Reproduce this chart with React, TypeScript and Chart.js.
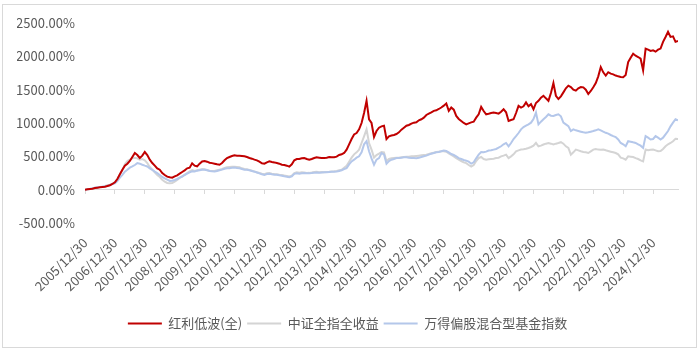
import React, { useEffect, useRef } from "react";
import { Chart, registerables } from "chart.js";

Chart.register(...registerables);

// Monthly month-end values, index 0 = 2005/12, index 238 = 2025/10 (cumulative return, %)
const startYear = 2005;
const seriesNames = ["红利低波(全)", "中证全指全收益", "万得偏股混合型基金指数"];

const redValues = [
  0, 5, 10, 15, 25, 30, 35, 40, 45, 55, 65, 85,
  110, 160, 230, 300, 360, 390, 430, 490, 550, 520, 475, 510,
  565, 520, 450, 400, 360, 320, 300, 250, 220, 195, 185, 180,
  200, 215, 240, 265, 290, 320, 330, 395, 360, 350, 390, 424,
  430, 420, 405, 398, 390, 380, 374, 400, 440, 474, 490, 505,
  515, 510, 510, 505, 500, 490, 475, 465, 450, 440, 420, 395,
  389, 410, 424, 415, 409, 400, 390, 374, 370, 360, 345, 380,
  440, 460, 460, 470, 475, 460, 450, 460, 475, 485, 480, 475,
  475, 480, 490, 485, 488, 495, 520, 530, 550, 600, 680, 760,
  829, 850, 904, 1000, 1150, 1333, 1056, 1000, 790, 880, 930, 950,
  960, 760, 800, 813, 820, 835, 860, 900, 930, 960, 970, 990,
  1005, 1010, 1040, 1056, 1080, 1120, 1141, 1160, 1182, 1190, 1210, 1232,
  1260, 1293, 1182, 1232, 1200, 1106, 1060, 1030, 1000, 980, 995, 1010,
  1020, 1080, 1131, 1242, 1180, 1131, 1140, 1150, 1156, 1150, 1141, 1170,
  1207, 1160, 1030, 1045, 1056, 1150, 1257, 1232, 1250, 1308, 1250, 1283,
  1207, 1300, 1333, 1380, 1409, 1370, 1333, 1450, 1600, 1409, 1360, 1400,
  1459, 1520, 1560, 1540, 1500, 1485, 1520, 1540, 1535, 1500, 1434, 1480,
  1535, 1600, 1700, 1838, 1760, 1712, 1762, 1740, 1730, 1712, 1700, 1690,
  1687, 1720, 1913, 1980, 2040, 2010, 1990, 1965, 1790, 2116, 2100, 2080,
  2091, 2070, 2100, 2116, 2217, 2290, 2368, 2292, 2300, 2217, 2230,
];

const grayValues = [
  0, 5, 10, 20, 30, 35, 40, 45, 55, 65, 75, 90,
  110, 160, 230, 290, 380, 430, 450, 470, 480, 470, 450, 460,
  440, 400, 340, 300, 260, 220, 190, 150, 120, 100, 95, 100,
  120, 145, 175, 200, 225, 250, 275, 295, 280, 290, 300, 310,
  305, 295, 285, 280, 280, 290, 300, 310, 325, 335, 340, 345,
  345, 340, 335, 320, 310, 305, 295, 285, 275, 262, 250, 238,
  232, 245, 248, 240, 235, 232, 225, 220, 212, 205, 198, 210,
  250, 262, 255, 260, 258, 250, 252, 258, 265, 268, 262, 265,
  262, 265, 268, 272, 275, 280, 290, 300, 330, 360, 420, 480,
  530, 560, 600, 700, 800, 904, 700, 600, 480, 520, 540, 565,
  560, 430, 460, 470, 475, 480, 480, 485, 490, 495, 495, 500,
  500, 505, 510, 515, 520, 525, 535, 545, 555, 565, 570, 575,
  576, 570, 545, 520, 500, 474, 450, 430, 410, 398, 370, 348,
  370, 430, 474, 490, 460, 450, 455, 460, 465, 474, 480, 500,
  510, 525, 474, 500, 530, 576, 590, 601, 605, 615, 626, 640,
  660, 701, 651, 660, 677, 690, 701, 690, 677, 690, 700, 712,
  690, 650, 626, 525, 560, 601, 590, 576, 565, 560, 550, 575,
  601, 610, 601, 600, 601, 590, 580, 570, 560, 550, 530, 480,
  470, 450, 500, 495, 490, 474, 460, 440, 424, 601, 590, 600,
  601, 590, 576, 580, 610, 651, 680, 700, 727, 762, 760,
];

const blueValues = [
  0, 5, 10, 20, 30, 35, 40, 45, 50, 55, 70, 85,
  95, 130, 180, 222, 270, 298, 330, 348, 370, 398, 390, 374,
  360, 348, 320, 298, 270, 247, 220, 190, 171, 150, 131, 135,
  146, 160, 180, 197, 220, 240, 260, 275, 273, 285, 290, 298,
  298, 290, 280, 275, 273, 280, 290, 300, 313, 320, 323, 328,
  333, 325, 320, 310, 300, 298, 290, 280, 270, 258, 245, 230,
  222, 235, 237, 230, 225, 222, 215, 210, 200, 195, 187, 200,
  237, 245, 240, 247, 250, 245, 247, 250, 255, 258, 255, 258,
  260, 262, 265, 268, 270, 273, 280, 290, 310, 323, 380, 424,
  450, 480, 500, 560, 680, 727, 576, 470, 374, 450, 474, 550,
  530, 389, 430, 450, 460, 474, 474, 480, 485, 485, 480, 474,
  474, 470, 480, 490, 500, 510, 525, 540, 550, 560, 565, 575,
  586, 580, 560, 535, 520, 500, 474, 460, 445, 435, 420, 390,
  410, 470, 525, 565, 560, 570, 586, 590, 601, 610, 630, 651,
  680, 701, 651, 700, 760, 803, 850, 904, 940, 960, 980, 1005,
  1060, 1156, 980, 1020, 1056, 1090, 1131, 1110, 1106, 1120, 1131, 1100,
  1005, 980, 954, 879, 904, 890, 880, 870, 860, 853, 860, 870,
  879, 890, 904, 890, 870, 853, 840, 820, 803, 790, 753, 700,
  680, 651, 727, 720, 710, 701, 680, 660, 626, 803, 780, 753,
  760, 803, 780, 753, 780, 830, 879, 950, 1005, 1056, 1040,
];

const yTicks = { min: -500, max: 2500, step: 500 };
const tickLabel = (v: number) => `${startYear + v / 12}/12/30`;

const toPoints = (arr: number[]) => arr.map((y, i) => ({ x: i, y }));

const FONT = '"Noto Sans CJK SC", "Noto Sans", sans-serif';
const TEXT = "#595959";

export default function App() {
  const ref = useRef<HTMLCanvasElement | null>(null);

  useEffect(() => {
    if (!ref.current) return;
    const lastIndex = redValues.length - 1;
    const chart = new Chart(ref.current, {
      type: "line",
      data: {
        datasets: [
          {
            label: seriesNames[0],
            data: toPoints(redValues),
            borderColor: "#C00000",
            backgroundColor: "#C00000",
            borderWidth: 2,
            pointRadius: 0,
            order: 0,
          },
          {
            label: seriesNames[1],
            data: toPoints(grayValues),
            borderColor: "#D4D4D4",
            backgroundColor: "#D4D4D4",
            borderWidth: 2,
            pointRadius: 0,
            order: 2,
          },
          {
            label: seriesNames[2],
            data: toPoints(blueValues),
            borderColor: "#B4C7EA",
            backgroundColor: "#B4C7EA",
            borderWidth: 2,
            pointRadius: 0,
            order: 1,
          },
        ],
      },
      options: {
        animation: false,
        responsive: false,
        events: [],
        layout: { padding: { left: 17, top: 23, right: 22, bottom: 12 } },
        scales: {
          x: {
            type: "linear",
            position: "bottom",
            min: 0,
            max: lastIndex,
            afterFit: (s: any) => {
              s.height = 89;
            },
            grid: { display: false, drawTicks: false },
            border: { display: false },
            ticks: {
              stepSize: 12,
              includeBounds: false,
              autoSkip: false,
              maxRotation: 45,
              minRotation: 45,
              padding: 12,
              color: TEXT,
              font: { family: FONT, size: 13 },
              callback: (v: any) => tickLabel(Number(v)),
            },
          },
          x0: {
            type: "linear",
            position: { y: 0 } as any,
            min: 0,
            max: lastIndex,
            grid: {
              display: true,
              drawOnChartArea: false,
              drawTicks: true,
              tickLength: 4,
              color: "#D9D9D9",
            },
            border: { display: true, color: "#D9D9D9", width: 1 },
            ticks: { display: false, stepSize: 12, includeBounds: false, autoSkip: false },
          },
          y: {
            min: yTicks.min,
            max: yTicks.max,
            afterFit: (s: any) => {
              s.width = 68;
            },
            grid: { display: false, drawTicks: false },
            border: { display: false },
            ticks: {
              stepSize: yTicks.step,
              padding: 10,
              color: TEXT,
              font: { family: FONT, size: 13 },
              callback: (v: any) => `${Number(v).toFixed(2)}%`,
            },
          },
        },
        plugins: {
          tooltip: { enabled: false },
          legend: {
            position: "bottom",
            labels: {
              boxWidth: 34,
              boxHeight: 2,
              padding: 5,
              color: TEXT,
              font: { family: FONT, size: 13 },
              sort: (a: any, b: any) => a.datasetIndex - b.datasetIndex,
              generateLabels: (c: any) =>
                Chart.defaults.plugins.legend.labels
                  .generateLabels(c)
                  .map((l: any) => ({ ...l, lineWidth: 0, fillStyle: l.strokeStyle })),
            },
          },
        },
      } as any,
    });
    return () => chart.destroy();
  }, []);

  return (
    <div style={{ position: "fixed", left: 0, top: 0, width: 700, height: 352, background: "#fff" }}>
      <div
        style={{
          position: "absolute",
          left: 2,
          top: 4,
          width: 695,
          height: 344,
          boxSizing: "border-box",
          border: "1px solid #D9D9D9",
        }}
      />
      <canvas ref={ref} width={700} height={352} style={{ position: "absolute", left: 0, top: 0 }} />
    </div>
  );
}
